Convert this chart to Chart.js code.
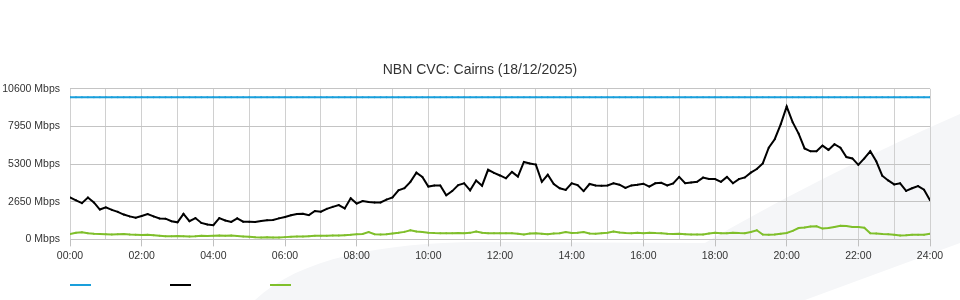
<!DOCTYPE html>
<html>
<head>
<meta charset="utf-8">
<script src="https://cdn.jsdelivr.net/npm/chart.js@4.4.1/dist/chart.umd.min.js"></script>
<style>
  body { margin: 0; background: #fff; }
  #wrap { position: relative; width: 960px; height: 300px; }
  #legend { position: absolute; left: 70px; top: 284px; display: flex; gap: 79px; }
  #legend span { display: block; width: 21px; height: 2px; }
</style>
</head>
<body>
<div id="wrap">
  <canvas id="cvcChart" width="960" height="300"></canvas>
  <div id="legend"></div>
</div>
<script>
// 10 minute samples, 00:00 .. 24:00
const capacityMbps = 10000;

const usedMbps = [
  2950, 2750, 2550, 2950, 2600, 2100,
  2250, 2080, 1940, 1750, 1620, 1530,
  1650, 1780, 1620, 1470, 1460, 1280,
  1200, 1800, 1280, 1500, 1160, 1045,
  1000, 1500, 1330, 1230, 1480, 1250,
  1250, 1230, 1300, 1350, 1370, 1480,
  1580, 1700, 1790, 1800, 1710, 2000,
  1950, 2150, 2290, 2420, 2180, 2900,
  2520, 2700, 2640, 2600, 2600, 2800,
  2950, 3460, 3600, 4050, 4700, 4400,
  3720, 3800, 3800, 3100, 3400, 3820,
  3950, 3450, 4150, 3780, 4900, 4680,
  4500, 4300, 4750, 4420, 5450, 5340,
  5265, 4050, 4550, 3900, 3600, 3480,
  3950, 3820, 3400, 3900, 3800, 3770,
  3800, 3950, 3850, 3620, 3800, 3840,
  3920, 3720, 3950, 3980, 3800, 3940,
  4400, 3950, 4005, 4050, 4350, 4250,
  4245, 4050, 4400, 3950, 4245, 4360,
  4700, 4950, 5350, 6450, 7050, 8100,
  9350, 8250, 7450, 6400, 6200, 6200,
  6600, 6300, 6700, 6450, 5800, 5700,
  5250, 5700, 6200, 5500, 4480, 4150,
  3870, 3950, 3415, 3600, 3750, 3500,
  2750
];

const otherMbps = [
  380, 470, 500, 430, 400, 380,
  360, 340, 360, 380, 350, 330,
  310, 320, 290, 260, 230, 230,
  240, 220, 200, 220, 260, 240,
  260, 270, 250, 270, 240, 210,
  180, 150, 140, 150, 140, 130,
  160, 190, 200, 210, 230, 250,
  260, 260, 270, 280, 300, 320,
  360, 380, 520, 370, 340, 360,
  420, 470, 530, 650, 560, 520,
  470, 450, 440, 440, 440, 450,
  440, 460, 560, 470, 440, 440,
  430, 440, 430, 400, 350, 420,
  430, 400, 370, 420, 430, 520,
  450, 470, 520, 420, 390, 430,
  470, 560, 480, 450, 440, 460,
  440, 470, 450, 440, 400, 380,
  390, 370, 340, 350, 340, 420,
  470, 430, 440, 470, 450, 440,
  520, 640, 340, 330, 340, 400,
  450, 600, 800, 830, 900, 920,
  760, 800, 880, 960, 950, 880,
  870, 820, 430, 410, 380, 360,
  330, 280, 290, 320, 330, 320,
  400
];

const yTicks = [0, 2650, 5300, 7950, 10600];

const hours = usedMbps.map((_, i) => i / 6);
const toPoints = vals => vals.map((v, i) => ({ x: hours[i], y: v }));

const colors = { capacity: "#1a9fdb", used: "#000000", other: "#7fbf2b" };

Chart.defaults.font.family = "'Liberation Sans', Arial, sans-serif";
Chart.defaults.color = "#333";

// faint watermark swoosh behind the plot
const swoosh = {
  id: "swoosh",
  beforeDraw(chart) {
    const ctx = chart.ctx;
    ctx.save();
    ctx.fillStyle = "#f5f6f8";
    ctx.beginPath();
    ctx.moveTo(255, 300);
    ctx.bezierCurveTo(300, 258, 380, 243, 480, 242);
    ctx.lineTo(705, 243);
    ctx.bezierCurveTo(770, 205, 860, 158, 960, 114);
    ctx.lineTo(960, 243);
    ctx.lineTo(805, 300);
    ctx.closePath();
    ctx.fill();
    ctx.restore();
  }
};

const lineSet = (label, vals, color) => ({
  label,
  data: toPoints(vals),
  borderColor: color,
  backgroundColor: color,
  borderWidth: 2,
  pointRadius: 1,
  pointBorderWidth: 0,
  tension: 0,
  fill: false
});

const chart = new Chart(document.getElementById("cvcChart"), {
  type: "line",
  data: {
    datasets: [
      lineSet("Capacity", usedMbps.map(() => capacityMbps), colors.capacity),
      lineSet("Used", usedMbps, colors.used),
      lineSet("Other", otherMbps, colors.other)
    ]
  },
  options: {
    responsive: false,
    animation: false,
    layout: { padding: { top: 62, right: 0, bottom: 35, left: 0 } },
    plugins: {
      legend: { display: false },
      tooltip: { enabled: false },
      title: {
        display: true,
        text: "NBN CVC: Cairns (18/12/2025)",
        color: "#333",
        font: { size: 14, weight: "normal" },
        padding: { top: 0, bottom: 10 }
      }
    },
    scales: {
      x: {
        type: "linear",
        min: 0,
        max: 24,
        border: { display: false },
        grid: {
          color: "#d0d0d0",
          tickLength: 7,
          tickColor: c => (c.tick && c.tick.value % 2 === 0 ? "#c0c0c0" : "rgba(0,0,0,0)")
        },
        ticks: {
          stepSize: 1,
          autoSkip: false,
          maxRotation: 0,
          padding: 3,
          font: { size: 10.5 },
          callback: v => (v % 2 === 0 ? String(v).padStart(2, "0") + ":00" : "")
        }
      },
      y: {
        min: 0,
        max: 10600,
        border: { display: false },
        afterFit: s => { s.width = 70; },
        afterBuildTicks: s => { s.ticks = yTicks.map(v => ({ value: v })); },
        grid: { color: "#c4c4c4", drawTicks: false },
        ticks: {
          padding: 10,
          font: { size: 10.5 },
          callback: v => v + " Mbps"
        }
      },
      // empty right-hand gutter so the title stays centred on the canvas
      yRight: {
        position: "right",
        min: 0,
        max: 10600,
        border: { display: false },
        grid: { display: false },
        ticks: { display: false },
        afterFit: s => { s.width = 30; }
      }
    }
  },
  plugins: [swoosh]
});

const legend = document.getElementById("legend");
chart.data.datasets.forEach(ds => {
  const s = document.createElement("span");
  s.style.background = ds.borderColor;
  legend.appendChild(s);
});
</script>
</body>
</html>
